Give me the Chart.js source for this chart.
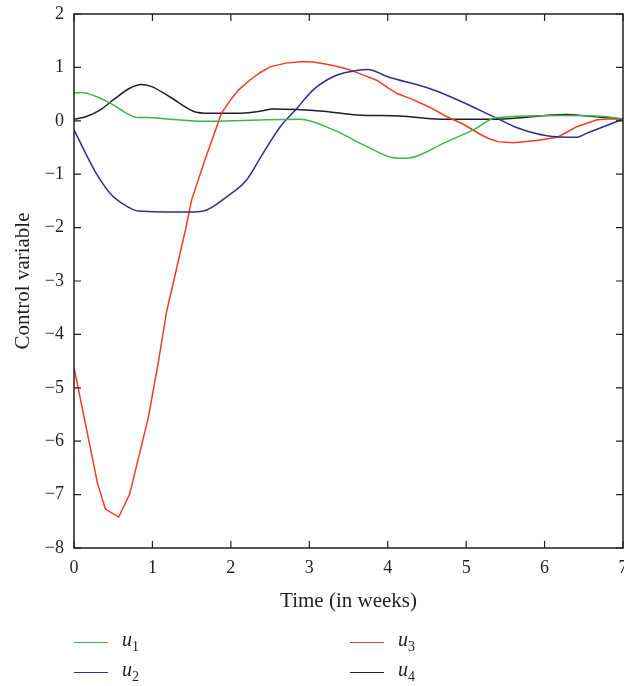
<!DOCTYPE html>
<html>
<head>
<meta charset="utf-8">
<script src="https://cdn.jsdelivr.net/npm/chart.js@4/dist/chart.umd.min.js"></script>
<style>
  html, body { margin: 0; padding: 0; background: #fff; }
  #wrap { position: relative; width: 624px; height: 686px; }
  .leg { position: absolute; font-family: "Liberation Serif", serif; font-size: 20px; color: #231f20; }
  .leg .ln { position: absolute; width: 34px; height: 0; border-top: 1.5px solid; }
  .leg i { position: absolute; }
  .leg sub { font-style: normal; font-size: 14px; }
</style>
</head>
<body>
<div id="wrap">
  <canvas id="grafico" width="624" height="686"></canvas>
</div>
<script>
// time axis (weeks) and control values
const u1T = [0, 0.1, 0.29, 0.5, 0.67, 0.82, 0.93, 1.22, 1.65, 2.24, 2.88, 3.31, 3.73, 4.07, 4.24, 4.41, 4.67, 5.09, 5.39, 6.24, 6.75, 7.0]
const u1V = [0.52, 0.53, 0.45, 0.30, 0.14, 0.06, 0.06, 0.03, -0.01, 0.01, 0.03, -0.17, -0.48, -0.69, -0.70, -0.64, -0.45, -0.17, 0.06, 0.10, 0.08, 0.04]

const u2T = [0, 0.27, 0.48, 0.65, 0.82, 1.46, 1.65, 1.95, 2.2, 2.41, 2.63, 2.84, 3.05, 3.31, 3.52, 3.75, 3.99, 4.54, 4.8, 5.39, 5.65, 6.03, 6.41, 6.54, 6.84, 7.0]
const u2V = [-0.17, -0.95, -1.39, -1.58, -1.69, -1.71, -1.69, -1.42, -1.11, -0.61, -0.11, 0.23, 0.58, 0.83, 0.92, 0.96, 0.83, 0.60, 0.45, 0.05, -0.13, -0.28, -0.31, -0.23, -0.06, 0.03]

const u3T = [0, 0.3, 0.4, 0.57, 0.71, 0.95, 1.08, 1.18, 1.42, 1.5, 1.67, 1.82, 1.88, 2.0, 2.1, 2.24, 2.37, 2.5, 2.7, 2.92, 3.05, 3.22, 3.35, 3.5, 3.7, 3.86, 4.0, 4.12, 4.3, 4.54, 4.75, 4.96, 5.2, 5.3, 5.41, 5.6, 5.9, 6.16, 6.3, 6.41, 6.67, 6.85, 7.0]
const u3V = [-4.62, -6.79, -7.27, -7.42, -6.99, -5.54, -4.48, -3.58, -2.05, -1.48, -0.73, -0.11, 0.14, 0.40, 0.58, 0.76, 0.90, 1.01, 1.08, 1.11, 1.10, 1.06, 1.02, 0.96, 0.85, 0.76, 0.62, 0.51, 0.41, 0.25, 0.08, -0.06, -0.27, -0.34, -0.39, -0.41, -0.37, -0.31, -0.20, -0.11, 0.02, 0.04, 0.03]

const u4T = [0, 0.16, 0.33, 0.5, 0.71, 0.86, 0.99, 1.22, 1.52, 1.73, 2.08, 2.37, 2.54, 3.18, 3.61, 4.16, 4.67, 5.39, 6.28, 6.54, 7.0]
const u4V = [0.03, 0.08, 0.2, 0.39, 0.61, 0.68, 0.64, 0.45, 0.18, 0.14, 0.14, 0.18, 0.22, 0.18, 0.11, 0.09, 0.03, 0.03, 0.12, 0.09, 0.03]

const xTicks = [0, 1, 2, 3, 4, 5, 6, 7]
const yTicks = [-8, -7, -6, -5, -4, -3, -2, -1, 0, 1, 2]

const nomes = ['u1', 'u2', 'u3', 'u4']
const cores = ['#3bb54a', '#2e2f8f', '#f03c23', '#231f20']
const suave = [true, true, false, true]

function pontos(t, v){
  let lista = []
  for(let i = 0; i < t.length; i++){
    lista.push({x: t[i], y: v[i]})
  }
  return lista
}

const series = [pontos(u1T, u1V), pontos(u2T, u2V), pontos(u3T, u3V), pontos(u4T, u4V)]

const fonte = '"Liberation Serif", "Times New Roman", serif'
const texto = '#231f20'

// frame with inward ticks on all four sides
const moldura = {
  id: 'moldura',
  afterDraw(chart){
    const {ctx, chartArea: a, scales} = chart
    ctx.save()
    ctx.strokeStyle = '#231f20'
    ctx.lineWidth = 1.5
    ctx.strokeRect(a.left, a.top, a.right - a.left, a.bottom - a.top)
    ctx.lineWidth = 1.2
    ctx.beginPath()
    for(let v of xTicks){
      let px = scales.x.getPixelForValue(v)
      ctx.moveTo(px, a.bottom); ctx.lineTo(px, a.bottom - 7)
      ctx.moveTo(px, a.top); ctx.lineTo(px, a.top + 7)
    }
    for(let v of yTicks){
      let py = scales.y.getPixelForValue(v)
      ctx.moveTo(a.left, py); ctx.lineTo(a.left + 7, py)
      ctx.moveTo(a.right, py); ctx.lineTo(a.right - 7, py)
    }
    ctx.stroke()
    ctx.restore()
  }
}

new Chart(document.getElementById('grafico'), {
  type: 'line',
  data: {
    datasets: series.map((d, i) => ({
      label: nomes[i],
      data: d,
      borderColor: cores[i],
      borderWidth: 1.5,
      pointRadius: 0,
      fill: false,
      cubicInterpolationMode: suave[i] ? 'monotone' : 'default',
      tension: 0
    }))
  },
  options: {
    responsive: false,
    animation: false,
    layout: { padding: { top: 14, right: 1, bottom: 72, left: 0 } },
    plugins: { legend: { display: false }, tooltip: { enabled: false } },
    scales: {
      x: {
        type: 'linear',
        min: 0, max: 7,
        afterBuildTicks: s => { s.ticks = xTicks.map(v => ({value: v})) },
        afterFit: s => { s.height = 66; s.paddingLeft = 0; s.paddingRight = 0 },
        grid: { display: false, drawTicks: false },
        border: { display: false },
        ticks: { color: texto, font: { family: fonte, size: 18 }, padding: 9, maxRotation: 0 },
        title: { display: true, text: 'Time (in weeks)', color: texto, font: { family: fonte, size: 21 }, padding: 0 }
      },
      y: {
        min: -8, max: 2,
        afterBuildTicks: s => { s.ticks = yTicks.map(v => ({value: v})) },
        afterFit: s => { s.width = 74; s.paddingTop = 0; s.paddingBottom = 0 },
        grid: { display: false, drawTicks: false },
        border: { display: false },
        ticks: {
          color: texto, font: { family: fonte, size: 18 }, padding: 10,
          callback: v => v < 0 ? '\u2212' + Math.abs(v) : String(v)
        },
        title: { display: true, text: 'Control variable', color: texto, font: { family: fonte, size: 21 }, padding: { top: 11, bottom: 0 } }
      }
    }
  },
  plugins: [moldura]
})

// legend in two columns below the axis title
const wrap = document.getElementById('wrap')
const posLeg = [[74, 642], [74, 672], [350, 642], [350, 672]]
nomes.forEach((n, i) => {
  const el = document.createElement('div')
  el.className = 'leg'
  el.style.left = posLeg[i][0] + 'px'
  el.style.top = posLeg[i][1] + 'px'
  el.innerHTML = '<span class="ln" style="left:0;top:0;border-color:' + cores[i] + '"></span>' +
    '<i style="left:48px;top:-14px">u<sub>' + n.slice(1) + '</sub></i>'
  wrap.appendChild(el)
})
</script>
</body>
</html>
